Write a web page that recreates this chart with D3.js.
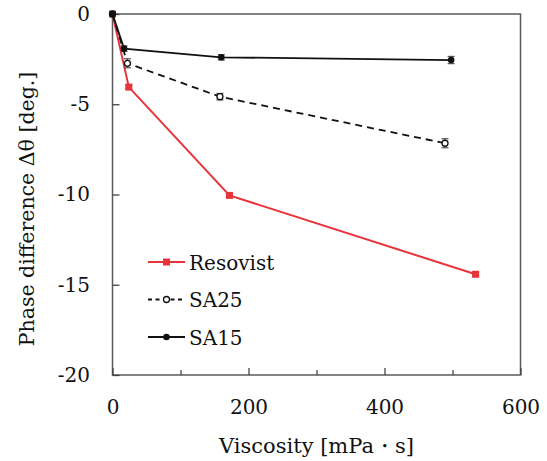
<!DOCTYPE html>
<html>
<head>
<meta charset="utf-8">
<script src="https://cdn.jsdelivr.net/npm/d3@7"></script>
<style>
  html, body { margin: 0; padding: 0; background: #fff; }
  svg { display: block; }
  text { font-family: "DejaVu Serif", "Liberation Serif", serif; fill: #111; }
</style>
</head>
<body>
<svg id="chart" width="547" height="461"></svg>
<script>
// ---- data ----
const seriesNames = ["Resovist", "SA25", "SA15"];
const resovistX = [0, 24, 172, 534];
const resovistY = [0, -4.05, -10.05, -14.42];
const resovistErr = [0, 0.1, 0.1, 0.1];
const sa25X = [0, 22, 158, 489];
const sa25Y = [0, -2.73, -4.58, -7.16];
const sa25Err = [0, 0.25, 0.18, 0.25];
const sa15X = [0, 17, 160, 498];
const sa15Y = [0, -1.92, -2.40, -2.55];
const sa15Err = [0, 0.15, 0.15, 0.2];
const xTicks = [0, 100, 200, 300, 400, 500, 600];
const xTickLabels = [0, 200, 400, 600];
const yTicks = [0, -5, -10, -15, -20];
const xTitle = "Viscosity [mPa・s]";
const yTitle = "Phase difference Δθ [deg.]";

// ---- layout ----
const svg = d3.select("#chart");
const L = 112.5, R = 520.5, T = 14, B = 375;
const x = d3.scaleLinear().domain([0, 600]).range([L, R]);
const y = d3.scaleLinear().domain([-20, 0]).range([B, T]);

const series = [
  { name: seriesNames[0], xs: resovistX, ys: resovistY, err: resovistErr, color: "#e8333b", width: 2, dash: null, marker: "square" },
  { name: seriesNames[1], xs: sa25X, ys: sa25Y, err: sa25Err, color: "#111", width: 1.8, dash: "7,5", marker: "open" },
  { name: seriesNames[2], xs: sa15X, ys: sa15Y, err: sa15Err, color: "#111", width: 1.8, dash: null, marker: "dot" }
];

// frame
svg.append("rect").attr("x", L).attr("y", T).attr("width", R - L).attr("height", B - T)
  .attr("fill", "none").attr("stroke", "#5a5a5a").attr("stroke-width", 1.5);

// x axis
const xAxis = d3.axisBottom(x).tickValues(xTicks)
  .tickSizeInner(-7).tickSizeOuter(0).tickPadding(25)
  .tickFormat(d => xTickLabels.includes(d) ? String(d) : "");
const gx = svg.append("g").attr("transform", `translate(0,${B})`).call(xAxis);
gx.select(".domain").remove();
gx.selectAll(".tick line").attr("stroke", "#444").attr("stroke-width", 1.3)
  .attr("y2", d => xTickLabels.includes(d) ? -7 : -5);
gx.selectAll(".tick text").attr("font-size", 20).attr("fill", "#111")
  .attr("font-family", "DejaVu Serif, serif");

// y axis
const yAxis = d3.axisLeft(y).tickValues(yTicks)
  .tickSizeInner(-7).tickSizeOuter(0).tickPadding(22.5)
  .tickFormat(d => String(d));
const gy = svg.append("g").attr("transform", `translate(${L},0)`).call(yAxis);
gy.select(".domain").remove();
gy.selectAll(".tick line").attr("stroke", "#444").attr("stroke-width", 1.3);
gy.selectAll(".tick text").attr("font-size", 20).attr("fill", "#111")
  .attr("font-family", "DejaVu Serif, serif");

// titles
svg.append("text").attr("x", (L + R) / 2).attr("y", 453).attr("text-anchor", "middle")
  .attr("font-size", 21).text(xTitle);
svg.append("text").attr("transform", `translate(34,209) rotate(-90)`).attr("text-anchor", "middle")
  .attr("font-size", 20.5).text(yTitle);

// series
const line = d3.line().x(d => x(d[0])).y(d => y(d[1]));
function drawMarker(g, s, cx, cy) {
  if (s.marker === "square") {
    g.append("rect").attr("x", cx - 3.5).attr("y", cy - 3.5).attr("width", 7).attr("height", 7).attr("fill", s.color);
  } else if (s.marker === "open") {
    g.append("circle").attr("cx", cx).attr("cy", cy).attr("r", 3).attr("fill", "#fff").attr("stroke", "#111").attr("stroke-width", 1.3);
  } else {
    g.append("circle").attr("cx", cx).attr("cy", cy).attr("r", 3.3).attr("fill", "#111");
  }
}
series.forEach(s => {
  const pts = s.xs.map((v, i) => [v, s.ys[i], s.err[i]]);
  const g = svg.append("g");
  g.append("path").attr("d", line(pts)).attr("fill", "none").attr("stroke", s.color)
    .attr("stroke-width", s.width).attr("stroke-dasharray", s.dash);
  pts.forEach(p => {
    if (p[2] > 0) {
      const cx = x(p[0]), y1 = y(p[1] + p[2]), y2 = y(p[1] - p[2]);
      g.append("line").attr("x1", cx).attr("x2", cx).attr("y1", y1).attr("y2", y2).attr("stroke", "#555").attr("stroke-width", 1.2);
      [y1, y2].forEach(yy => g.append("line").attr("x1", cx - 3.5).attr("x2", cx + 3.5).attr("y1", yy).attr("y2", yy).attr("stroke", "#555").attr("stroke-width", 1.2));
    }
    drawMarker(g, s, x(p[0]), y(p[1]));
  });
});

// legend
const legY = [262, 299.5, 337];
series.forEach((s, i) => {
  const g = svg.append("g");
  g.append("line").attr("x1", 148).attr("x2", 185).attr("y1", legY[i]).attr("y2", legY[i])
    .attr("stroke", s.color).attr("stroke-width", s.width).attr("stroke-dasharray", s.dash ? "4,3.5" : null);
  drawMarker(g, s, 166.5, legY[i]);
  g.append("text").attr("x", 189).attr("y", legY[i] + 7.5).attr("font-size", 20).text(s.name);
});
</script>
</body>
</html>
